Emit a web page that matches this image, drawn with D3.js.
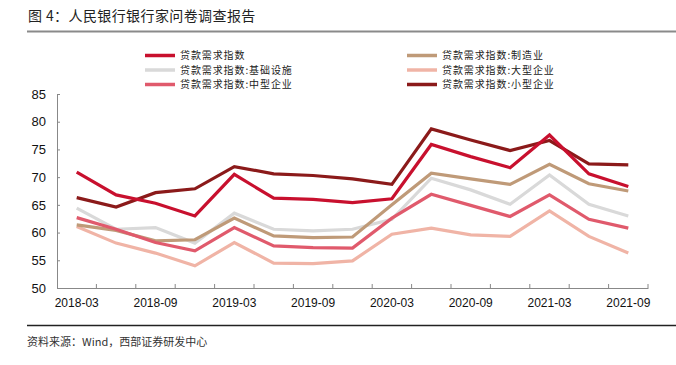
<!DOCTYPE html>
<html><head><meta charset="utf-8">
<script src="https://cdn.jsdelivr.net/npm/d3@7"></script>
<style>
html,body{margin:0;padding:0;background:#fff;}
svg{display:block;}
</style></head>
<body>
<svg id="chart" width="676" height="365"></svg>
<script>
const categories = ["2018-03","2018-06","2018-09","2018-12","2019-03","2019-06","2019-09","2019-12","2020-03","2020-06","2020-09","2020-12","2021-03","2021-06","2021-09"];
const tickLabels = ["2018-03","2018-09","2019-03","2019-09","2020-03","2020-09","2021-03","2021-09"];
const yTicks = [50,55,60,65,70,75,80,85];

const loanDemand   = [70.9,66.8,65.3,63.0,70.5,66.2,66.0,65.4,66.1,75.9,73.7,71.7,77.6,70.6,68.3];
const manufacturing= [61.4,60.4,58.5,58.7,62.6,59.4,59.1,59.2,65.0,70.7,69.7,68.7,72.3,68.8,67.5];
const infrastructure=[64.4,60.6,60.9,58.1,63.5,60.6,60.3,60.6,62.4,69.8,67.7,65.1,70.4,65.1,63.0];
const largeEnt     = [61.1,58.1,56.3,54.0,58.2,54.5,54.4,54.9,59.7,60.8,59.6,59.3,63.9,59.3,56.3];
const mediumEnt    = [62.7,60.6,58.2,56.7,60.9,57.6,57.3,57.2,62.6,66.9,64.9,62.9,66.8,62.4,60.8];
const smallEnt     = [66.3,64.6,67.2,67.9,71.9,70.6,70.3,69.7,68.7,78.7,76.7,74.8,76.6,72.4,72.2];

const seriesNames  = ["贷款需求指数","贷款需求指数:制造业","贷款需求指数:基础设施","贷款需求指数:大型企业","贷款需求指数:中型企业","贷款需求指数:小型企业"];
const seriesColors = ["#c8102e","#bf9a78","#d9d9d9","#f0b4a6","#e05a6c","#8b1a1a"];
const seriesData   = [loanDemand, manufacturing, infrastructure, largeEnt, mediumEnt, smallEnt];
const drawOrder    = [3,2,1,4,5,0];

const svg = d3.select("#chart");
const cjk = "'Noto Sans CJK SC','Noto Sans CJK JP',sans-serif";
const latin = "'Liberation Sans',Arial,sans-serif";

// Header
svg.append("text").attr("x",28).attr("y",21)
  .attr("font-family",cjk).attr("font-size",14).attr("letter-spacing",0.4).attr("fill","#222")
  .text("图 4：人民银行银行家问卷调查报告");
svg.append("line").attr("x1",27).attr("x2",676).attr("y1",31.5).attr("y2",31.5)
  .attr("stroke","#8a8a8a").attr("stroke-width",2);

// Footer
svg.append("line").attr("x1",27).attr("x2",676).attr("y1",325.5).attr("y2",325.5)
  .attr("stroke","#222").attr("stroke-width",1.5);
svg.append("text").attr("x",27).attr("y",345.5)
  .attr("font-family",cjk).attr("font-size",11).attr("letter-spacing",0).attr("fill","#333")
  .text("资料来源：Wind，西部证券研发中心");

// Scales
const x = d3.scaleBand().domain(categories).range([57,648]).padding(0);
const y = d3.scaleLinear().domain([50,85]).range([288,94]);
const cx = c => x(c) + x.bandwidth()/2;

// Y axis
const gy = svg.append("g").attr("transform","translate(57,0)")
  .call(d3.axisLeft(y).tickValues(yTicks).tickSizeInner(-3).tickSizeOuter(0).tickPadding(11));
gy.select(".domain").attr("stroke","#888");
gy.selectAll(".tick line").attr("stroke","#888");
gy.selectAll("text").attr("font-family",latin).attr("font-size",13).attr("fill","#111");

// X axis
const gx = svg.append("g").attr("transform","translate(0,288)")
  .call(d3.axisBottom(x).tickValues(tickLabels).tickSize(0).tickPadding(10));
gx.select(".domain").attr("stroke","#888");
gx.selectAll("text").attr("font-family",latin).attr("font-size",12).attr("fill","#111");
// boundary tick marks (pointing up)
const bounds = categories.slice(1).map(c => x(c)).concat([x.range()[1]]);
gx.selectAll(".btick").data(bounds).enter().append("line")
  .attr("x1",d=>d).attr("x2",d=>d).attr("y1",0).attr("y2",-4)
  .attr("stroke","#888");

// Lines
const line = d3.line().x((d,i)=>cx(categories[i])).y(d=>y(d));
drawOrder.forEach(k=>{
  svg.append("path").datum(seriesData[k]).attr("d",line)
    .attr("fill","none").attr("stroke",seriesColors[k]).attr("stroke-width",3.2)
    .attr("stroke-linejoin","miter");
});

// Legend
const legendPos = [
  [145,55.5],[407,55.5],
  [145,70],[407,70],
  [145,84.5],[407,84.5]
];
legendPos.forEach(([lx,ly],k)=>{
  svg.append("line").attr("x1",lx).attr("x2",lx+30).attr("y1",ly).attr("y2",ly)
    .attr("stroke",seriesColors[k]).attr("stroke-width",3.5);
  svg.append("text").attr("x",lx+35).attr("y",ly+3.6)
    .attr("font-family",cjk).attr("font-size",10).attr("letter-spacing",0.9).attr("fill","#222")
    .text(seriesNames[k]);
});
</script>
</body></html>
